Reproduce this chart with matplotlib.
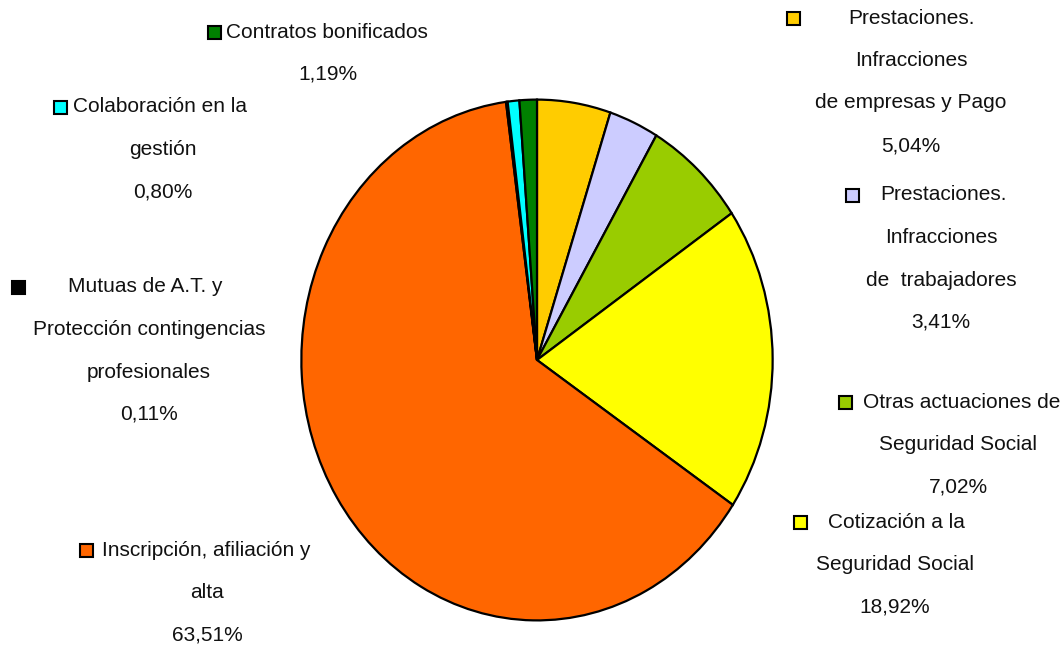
import matplotlib
matplotlib.use("Agg")
import matplotlib.pyplot as plt
from matplotlib import font_manager
from matplotlib.patches import Rectangle

# Actuaciones en materia de Seguridad Social (% sobre el total)
categorias = [
    "Prestaciones.\nInfracciones\nde empresas y Pago",
    "Prestaciones.\nInfracciones\nde  trabajadores",
    "Otras actuaciones de\nSeguridad Social",
    "Cotización a la\nSeguridad Social",
    "Inscripción, afiliación y\nalta",
    "Mutuas de A.T. y\nProtección contingencias\nprofesionales",
    "Colaboración en la\ngestión",
    "Contratos bonificados",
]
porcentajes = [5.04, 3.41, 7.02, 18.92, 63.51, 0.11, 0.80, 1.19]
colores = ["#FFCC00", "#CCCCFF", "#99CC00", "#FFFF00",
           "#FF6600", "#000000", "#00FFFF", "#008000"]

# fuente estrecha si existe
disponibles = {f.name for f in font_manager.fontManager.ttflist}
fuente = "Liberation Sans Narrow" if "Liberation Sans Narrow" in disponibles else "Liberation Sans"
plt.rcParams["font.family"] = [fuente, "DejaVu Sans"]

W, H = 1063, 649
fig = plt.figure(figsize=(W / 100, H / 100), dpi=100)

# capa de etiquetas en píxeles (y hacia abajo)
ax = fig.add_axes([0, 0, 1, 1])
ax.set_xlim(0, W)
ax.set_ylim(H, 0)
ax.axis("off")

# la tarta va algo estirada en vertical: caja de 476 x 526 px
px0, px1, py0, py1 = 299, 775, 97, 623
axp = fig.add_axes([px0 / W, 1 - py1 / H, (px1 - px0) / W, (py1 - py0) / H])
axp.pie(porcentajes, colors=colores, startangle=90, counterclock=False,
        radius=1, wedgeprops=dict(edgecolor="black", linewidth=1.6))
axp.set_aspect("auto")
axp.set_xlim(-1.01, 1.01)
axp.set_ylim(-1.01, 1.01)
axp.axis("off")

# posición de cada etiqueta: (x marcador, x texto 1a línea, x centro resto, y 1a línea)
posiciones = [
    (793, 848, 911, 18),
    (852, 880, 941, 195),
    (845, 863, 958, 402),
    (800, 828, 895, 522),
    (86, 102, 207, 550),
    (18, 68, 149, 287),
    (60, 73, 163, 107),
    (214, 226, 328, 32),
]
salto = 42.5
fs = 15

for cat, pct, col, (xm, xt, xc, y0) in zip(categorias, porcentajes, colores, posiciones):
    lineas = cat.split("\n") + [f"{pct:.2f}%".replace(".", ",")]
    ax.add_patch(Rectangle((xm - 6.5, y0 - 6.5), 13, 13, facecolor=col,
                           edgecolor="black", linewidth=1.5))
    ax.text(xt, y0, lineas[0], ha="left", va="center", fontsize=fs, color="#111111")
    for i, txt in enumerate(lineas[1:], start=1):
        ax.text(xc, y0 + i * salto, txt, ha="center", va="center",
                fontsize=fs, color="#111111")

fig.savefig("out.png", dpi=100)
